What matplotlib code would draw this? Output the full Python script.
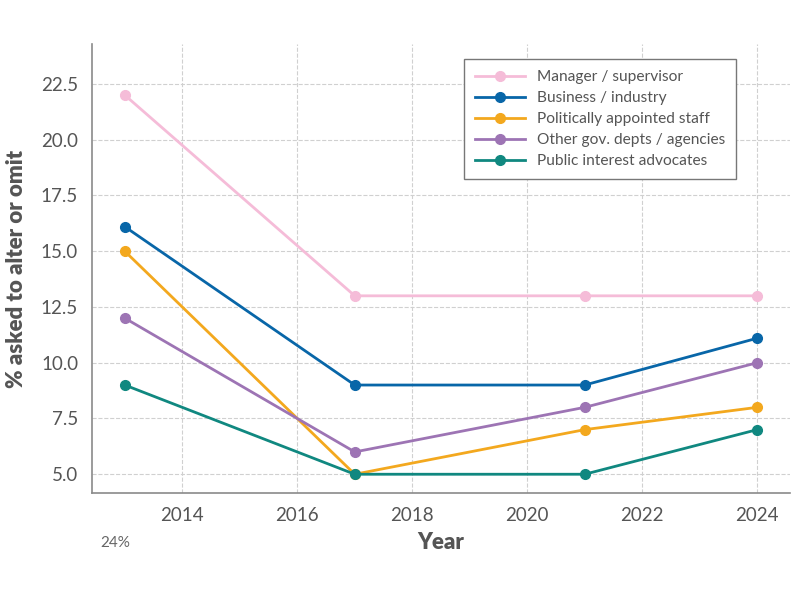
import matplotlib.pyplot as plt

# data
years = [2013, 2017, 2021, 2024]
manager = [22.0, 13.0, 13.0, 13.0]
business = [16.1, 9.0, 9.0, 11.1]
political = [15.0, 5.0, 7.0, 8.0]
other_gov = [12.0, 6.0, 8.0, 10.0]
public_int = [9.0, 5.0, 5.0, 7.0]

series = [
    ('Manager / supervisor', manager, '#F5BCD8'),
    ('Business / industry', business, '#0866A8'),
    ('Politically appointed staff', political, '#F3A81E'),
    ('Other gov. depts / agencies', other_gov, '#9D74B4'),
    ('Public interest advocates', public_int, '#108880'),
]

plt.rcParams['font.family'] = ['Lato', 'DejaVu Sans']

fig = plt.figure(figsize=(8, 6), dpi=100)
ax = fig.add_axes([0.115, 0.178, 0.8725, 0.749])

for name, vals, col in series:
    ax.plot(years, vals, marker='o', color=col, linewidth=2, markersize=7, label=name)

ax.set_xlim(2012.43, 2024.57)
ax.set_ylim(4.15, 24.3)
ax.set_yticks([5.0, 7.5, 10.0, 12.5, 15.0, 17.5, 20.0, 22.5])
ax.set_xticks([2014, 2016, 2018, 2020, 2022, 2024])

ax.grid(True, linestyle='--', color='#d0d0d0', linewidth=0.8)
ax.set_axisbelow(True)
for s in ['top', 'right']:
    ax.spines[s].set_visible(False)
for s in ['left', 'bottom']:
    ax.spines[s].set_color('#8a8a8a')
    ax.spines[s].set_linewidth(1.2)
ax.tick_params(length=0, labelsize=13.5, labelcolor='#555555', pad=10)

ax.set_xlabel('Year', fontsize=16, fontweight='heavy', color='#555555', labelpad=6)
ax.set_ylabel('% asked to alter or omit', fontsize=16, fontweight='heavy', color='#555555', labelpad=10)

leg = ax.legend(loc='upper right', bbox_to_anchor=(0.923, 0.966), borderaxespad=0,
                fontsize=11.2, fancybox=False, framealpha=1, edgecolor='#777777',
                handlelength=3.2, borderpad=0.7, labelspacing=0.45)
for t in leg.get_texts():
    t.set_color('#555555')

fig.text(0.125, 0.088, '24%', fontsize=11, color='#666666')

plt.savefig('out.png', dpi=100)
